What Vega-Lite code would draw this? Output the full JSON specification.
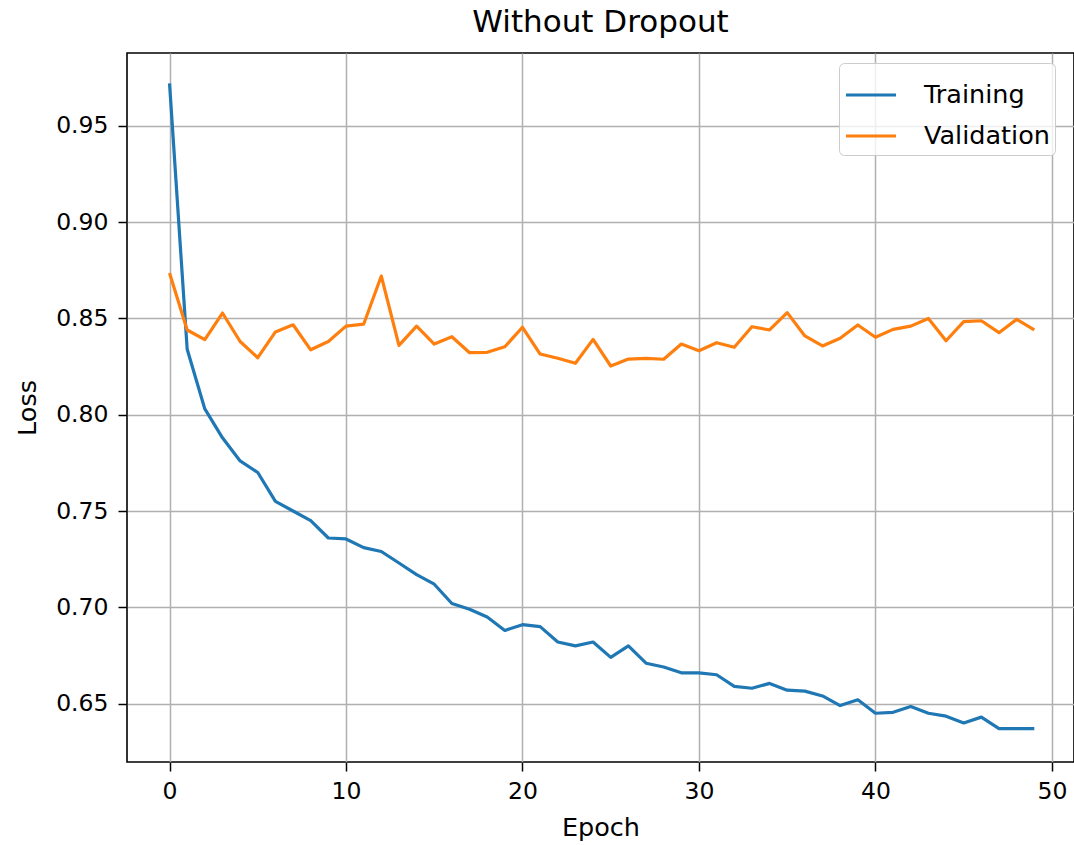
{
  "$schema": "https://vega.github.io/schema/vega-lite/v6.json",
  "autosize": {"type": "none"},
  "padding": {"left": 127, "top": 53, "right": 0, "bottom": 83},
  "width": 947,
  "height": 709,
  "background": "white",
  "title": {"text": "Without Dropout", "font": "DejaVu Sans", "fontSize": 31, "fontWeight": "normal", "color": "black", "anchor": "middle", "offset": 14},
  "config": {
    "view": {"stroke": "black", "strokeWidth": 1.6},
    "font": "DejaVu Sans"
  },
  "data": {"values": [
    {"epoch":0,"loss":0.972,"series":"Training"},
    {"epoch":1,"loss":0.834,"series":"Training"},
    {"epoch":2,"loss":0.803,"series":"Training"},
    {"epoch":3,"loss":0.788,"series":"Training"},
    {"epoch":4,"loss":0.776,"series":"Training"},
    {"epoch":5,"loss":0.770,"series":"Training"},
    {"epoch":6,"loss":0.755,"series":"Training"},
    {"epoch":7,"loss":0.750,"series":"Training"},
    {"epoch":8,"loss":0.745,"series":"Training"},
    {"epoch":9,"loss":0.736,"series":"Training"},
    {"epoch":10,"loss":0.7355,"series":"Training"},
    {"epoch":11,"loss":0.731,"series":"Training"},
    {"epoch":12,"loss":0.729,"series":"Training"},
    {"epoch":13,"loss":0.723,"series":"Training"},
    {"epoch":14,"loss":0.717,"series":"Training"},
    {"epoch":15,"loss":0.712,"series":"Training"},
    {"epoch":16,"loss":0.702,"series":"Training"},
    {"epoch":17,"loss":0.699,"series":"Training"},
    {"epoch":18,"loss":0.695,"series":"Training"},
    {"epoch":19,"loss":0.688,"series":"Training"},
    {"epoch":20,"loss":0.691,"series":"Training"},
    {"epoch":21,"loss":0.690,"series":"Training"},
    {"epoch":22,"loss":0.682,"series":"Training"},
    {"epoch":23,"loss":0.680,"series":"Training"},
    {"epoch":24,"loss":0.682,"series":"Training"},
    {"epoch":25,"loss":0.674,"series":"Training"},
    {"epoch":26,"loss":0.680,"series":"Training"},
    {"epoch":27,"loss":0.671,"series":"Training"},
    {"epoch":28,"loss":0.669,"series":"Training"},
    {"epoch":29,"loss":0.666,"series":"Training"},
    {"epoch":30,"loss":0.666,"series":"Training"},
    {"epoch":31,"loss":0.665,"series":"Training"},
    {"epoch":32,"loss":0.659,"series":"Training"},
    {"epoch":33,"loss":0.658,"series":"Training"},
    {"epoch":34,"loss":0.6605,"series":"Training"},
    {"epoch":35,"loss":0.657,"series":"Training"},
    {"epoch":36,"loss":0.6565,"series":"Training"},
    {"epoch":37,"loss":0.654,"series":"Training"},
    {"epoch":38,"loss":0.649,"series":"Training"},
    {"epoch":39,"loss":0.652,"series":"Training"},
    {"epoch":40,"loss":0.645,"series":"Training"},
    {"epoch":41,"loss":0.6455,"series":"Training"},
    {"epoch":42,"loss":0.6485,"series":"Training"},
    {"epoch":43,"loss":0.645,"series":"Training"},
    {"epoch":44,"loss":0.6435,"series":"Training"},
    {"epoch":45,"loss":0.640,"series":"Training"},
    {"epoch":46,"loss":0.643,"series":"Training"},
    {"epoch":47,"loss":0.637,"series":"Training"},
    {"epoch":48,"loss":0.637,"series":"Training"},
    {"epoch":49,"loss":0.637,"series":"Training"},
    {"epoch":0,"loss":0.8736,"series":"Validation"},
    {"epoch":1,"loss":0.844,"series":"Validation"},
    {"epoch":2,"loss":0.839,"series":"Validation"},
    {"epoch":3,"loss":0.8528,"series":"Validation"},
    {"epoch":4,"loss":0.838,"series":"Validation"},
    {"epoch":5,"loss":0.8296,"series":"Validation"},
    {"epoch":6,"loss":0.843,"series":"Validation"},
    {"epoch":7,"loss":0.8467,"series":"Validation"},
    {"epoch":8,"loss":0.8337,"series":"Validation"},
    {"epoch":9,"loss":0.838,"series":"Validation"},
    {"epoch":10,"loss":0.846,"series":"Validation"},
    {"epoch":11,"loss":0.847,"series":"Validation"},
    {"epoch":12,"loss":0.872,"series":"Validation"},
    {"epoch":13,"loss":0.836,"series":"Validation"},
    {"epoch":14,"loss":0.846,"series":"Validation"},
    {"epoch":15,"loss":0.8367,"series":"Validation"},
    {"epoch":16,"loss":0.8405,"series":"Validation"},
    {"epoch":17,"loss":0.8322,"series":"Validation"},
    {"epoch":18,"loss":0.8324,"series":"Validation"},
    {"epoch":19,"loss":0.8353,"series":"Validation"},
    {"epoch":20,"loss":0.8454,"series":"Validation"},
    {"epoch":21,"loss":0.8315,"series":"Validation"},
    {"epoch":22,"loss":0.8293,"series":"Validation"},
    {"epoch":23,"loss":0.8267,"series":"Validation"},
    {"epoch":24,"loss":0.8391,"series":"Validation"},
    {"epoch":25,"loss":0.8253,"series":"Validation"},
    {"epoch":26,"loss":0.8289,"series":"Validation"},
    {"epoch":27,"loss":0.8293,"series":"Validation"},
    {"epoch":28,"loss":0.8288,"series":"Validation"},
    {"epoch":29,"loss":0.8367,"series":"Validation"},
    {"epoch":30,"loss":0.8332,"series":"Validation"},
    {"epoch":31,"loss":0.8374,"series":"Validation"},
    {"epoch":32,"loss":0.835,"series":"Validation"},
    {"epoch":33,"loss":0.8457,"series":"Validation"},
    {"epoch":34,"loss":0.844,"series":"Validation"},
    {"epoch":35,"loss":0.853,"series":"Validation"},
    {"epoch":36,"loss":0.8409,"series":"Validation"},
    {"epoch":37,"loss":0.8357,"series":"Validation"},
    {"epoch":38,"loss":0.8397,"series":"Validation"},
    {"epoch":39,"loss":0.8466,"series":"Validation"},
    {"epoch":40,"loss":0.8402,"series":"Validation"},
    {"epoch":41,"loss":0.8443,"series":"Validation"},
    {"epoch":42,"loss":0.846,"series":"Validation"},
    {"epoch":43,"loss":0.850,"series":"Validation"},
    {"epoch":44,"loss":0.8384,"series":"Validation"},
    {"epoch":45,"loss":0.8483,"series":"Validation"},
    {"epoch":46,"loss":0.8488,"series":"Validation"},
    {"epoch":47,"loss":0.8426,"series":"Validation"},
    {"epoch":48,"loss":0.8495,"series":"Validation"},
    {"epoch":49,"loss":0.844,"series":"Validation"}
  ]},
  "mark": {"type": "line", "strokeWidth": 3.2, "clip": true, "strokeJoin": "round"},
  "encoding": {
    "x": {
      "field": "epoch", "type": "quantitative",
      "scale": {"domain": [-2.41, 51.25], "nice": false, "zero": false},
      "axis": {
        "title": "Epoch", "titleFontSize": 25.5, "titleFontWeight": "normal", "titleColor": "black", "titlePadding": 13,
        "values": [0, 10, 20, 30, 40, 50], "format": "d",
        "labelFontSize": 23.5, "labelColor": "black", "labelPadding": 8, "labelFlush": false,
        "tickSize": 9, "tickWidth": 1.5, "tickColor": "black",
        "domain": false,
        "grid": true, "gridColor": "#b0b0b0", "gridWidth": 1.5
      }
    },
    "y": {
      "field": "loss", "type": "quantitative",
      "scale": {"domain": [0.6197, 0.9878], "nice": false, "zero": false},
      "axis": {
        "title": "Loss", "titleFontSize": 25.5, "titleFontWeight": "normal", "titleColor": "black", "titlePadding": 15,
        "values": [0.65, 0.70, 0.75, 0.80, 0.85, 0.90, 0.95], "format": ".2f",
        "labelFontSize": 23.5, "labelColor": "black", "labelPadding": 10, "labelFlush": false,
        "tickSize": 9, "tickWidth": 1.5, "tickColor": "black",
        "domain": false,
        "grid": true, "gridColor": "#b0b0b0", "gridWidth": 1.5
      }
    },
    "color": {
      "field": "series", "type": "nominal",
      "scale": {"domain": ["Training", "Validation"], "range": ["#1f77b4", "#ff7f0e"]},
      "legend": {
        "title": null,
        "orient": "none", "legendX": 712, "legendY": 10,
        "symbolType": "stroke", "symbolSize": 2500, "symbolStrokeWidth": 3.2,
        "labelFontSize": 25.5, "labelColor": "black", "labelOffset": 26,
        "rowPadding": 0, "padding": 5,
        "fillColor": "rgba(255,255,255,0.8)", "strokeColor": "#cccccc", "cornerRadius": 5
      }
    }
  }
}
